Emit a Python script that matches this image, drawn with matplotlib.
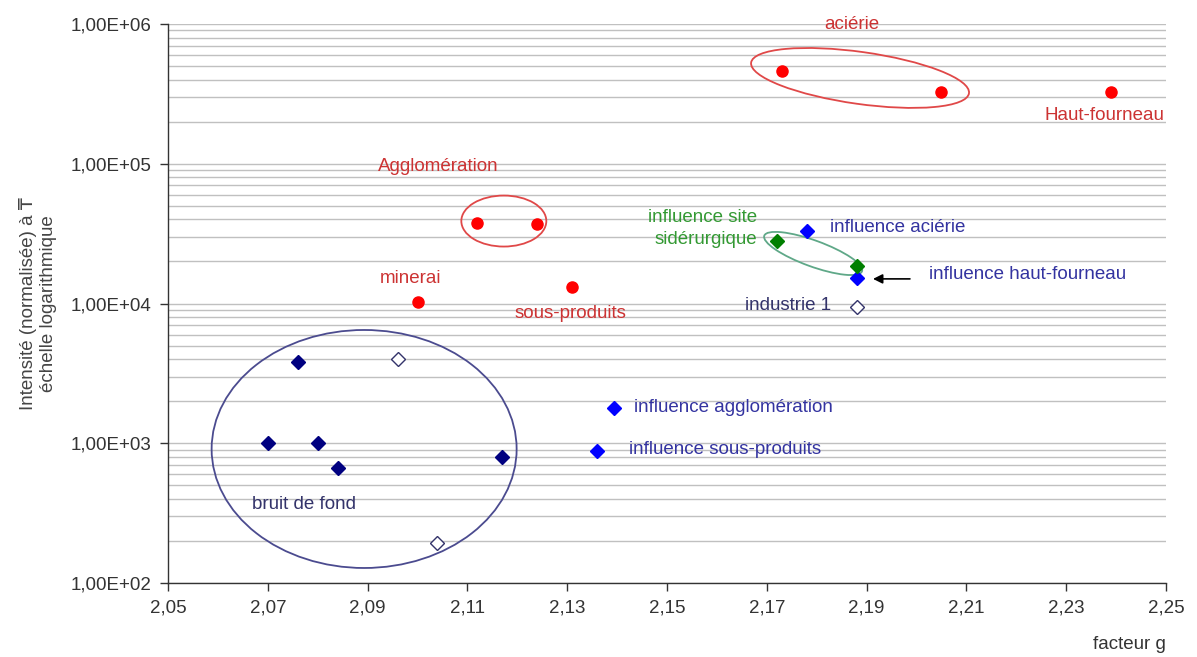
import matplotlib
matplotlib.use("Agg")
import matplotlib.pyplot as plt
import matplotlib.transforms as mtransforms
from matplotlib.patches import Ellipse
from matplotlib.ticker import FixedLocator, LogLocator, FuncFormatter, NullFormatter

plt.rcParams['font.family'] = ['Liberation Sans', 'DejaVu Sans']

# sources (red circles)
source_g = [2.173, 2.205, 2.239, 2.112, 2.124, 2.100, 2.131]
source_i = [4.6e5, 3.26e5, 3.26e5, 3.77e4, 3.7e4, 1.03e4, 1.31e4]

# influences (blue diamonds)
infl_g = [2.178, 2.188, 2.1394, 2.136]
infl_i = [3.3e4, 1.52e4, 1.79e3, 880]

# site siderurgique (green diamonds)
site_g = [2.172, 2.188]
site_i = [2.8e4, 1.85e4]

# bruit de fond (navy diamonds)
bruit_g = [2.076, 2.070, 2.080, 2.084, 2.117]
bruit_i = [3.83e3, 1000, 1000, 668, 794]

# hollow diamonds
open_g = [2.096, 2.104, 2.188]
open_i = [3.99e3, 194, 9.5e3]

xticks = [2.05, 2.07, 2.09, 2.11, 2.13, 2.15, 2.17, 2.19, 2.21, 2.23, 2.25]

RED_TXT = '#cc3333'
BLUE_TXT = '#3333a0'
GREEN_TXT = '#339933'
NAVY_TXT = '#33336a'
FS = 13.5

fig = plt.figure(figsize=(11.97, 6.57), dpi=100)
ax = fig.add_axes([0.1404, 0.1126, 0.8336, 0.8509])

ax.set_yscale('log')
ax.set_xlim(2.05, 2.25)
ax.set_ylim(1e2, 1e6)

ax.plot(source_g, source_i, 'o', color='#ff0000', markersize=8, zorder=4)
ax.plot(infl_g, infl_i, 'D', color='#0000ff', markersize=7.5, zorder=4)
ax.plot(site_g, site_i, 'D', color='#007f00', markersize=7.5, zorder=4)
ax.plot(bruit_g, bruit_i, 'D', color='#000080', markersize=7.5, zorder=4)
ax.plot(open_g, open_i, 'D', markerfacecolor='white', markeredgecolor='#33336a',
        markeredgewidth=1, markersize=7.5, zorder=4)

# ellipses: centre in data coords, size in inches
def add_ellipse(g, i, w, h, angle, color):
    tr = fig.dpi_scale_trans + mtransforms.ScaledTranslation(g, i, ax.transData)
    e = Ellipse((0, 0), w, h, angle=angle, transform=tr, fill=False,
                edgecolor=color, linewidth=1.3, zorder=3)
    ax.add_patch(e)

add_ellipse(2.1887, 4.11e5, 2.2, 0.52, -8, '#e04848')
add_ellipse(2.1173, 3.89e4, 0.85, 0.51, 0, '#e04848')
add_ellipse(2.1793, 2.28e4, 1.04, 0.26, -20, '#5fa888')
add_ellipse(2.0893, 910, 3.05, 2.38, 0, '#4b4b8f')

# labels
ax.text(2.1871, 9.84e5, 'aciérie', color=RED_TXT, fontsize=FS, ha='center', va='center')
ax.text(2.2376, 2.23e5, 'Haut-fourneau', color=RED_TXT, fontsize=FS, ha='center', va='center')
ax.text(2.1041, 9.48e4, 'Agglomération', color=RED_TXT, fontsize=FS, ha='center', va='center')
ax.text(2.0987, 1.52e4, 'minerai', color=RED_TXT, fontsize=FS, ha='center', va='center')
ax.text(2.1306, 8.55e3, 'sous-produits', color=RED_TXT, fontsize=FS, ha='center', va='center')
ax.text(2.168, 3.44e4, 'influence site\nsidérurgique', color=GREEN_TXT, fontsize=FS,
        ha='right', va='center', multialignment='right', linespacing=1.35)
ax.text(2.1827, 3.47e4, 'influence aciérie', color=BLUE_TXT, fontsize=FS, ha='left', va='center')
ax.text(2.2025, 1.62e4, 'influence haut-fourneau', color=BLUE_TXT, fontsize=FS, ha='left', va='center')
ax.text(2.1656, 9.6e3, 'industrie 1', color=NAVY_TXT, fontsize=FS, ha='left', va='center')
ax.text(2.1434, 1.79e3, 'influence agglomération', color=BLUE_TXT, fontsize=FS, ha='left', va='center')
ax.text(2.1424, 895, 'influence sous-produits', color=BLUE_TXT, fontsize=FS, ha='left', va='center')
ax.text(2.0668, 367, 'bruit de fond', color=NAVY_TXT, fontsize=FS, ha='left', va='center')

ax.annotate('', xy=(2.1913, 1.5e4), xytext=(2.1987, 1.5e4),
            arrowprops=dict(arrowstyle='-|>', color='black', lw=1.2, mutation_scale=14,
                            shrinkA=0, shrinkB=0))

# axes styling
ax.xaxis.set_major_locator(FixedLocator(xticks))
ax.xaxis.set_major_formatter(FuncFormatter(lambda v, p: f"{v:.2f}".replace('.', ',')))
ax.yaxis.set_major_locator(LogLocator(base=10, numticks=10))
ax.yaxis.set_minor_locator(LogLocator(base=10, subs=range(2, 10), numticks=20))
ax.yaxis.set_major_formatter(FuncFormatter(lambda v, p: f"{v:.2E}".replace('.', ',')))
ax.yaxis.set_minor_formatter(NullFormatter())

ax.grid(True, axis='y', which='both', color='#c0c0c0', linewidth=1)
ax.set_axisbelow(True)
ax.tick_params(axis='both', which='major', direction='out', length=6, width=1,
               color='#333333', labelcolor='#333333', labelsize=FS, pad=6)
ax.tick_params(axis='y', which='minor', length=0)

for s in ['top', 'right']:
    ax.spines[s].set_visible(False)
for s in ['left', 'bottom']:
    ax.spines[s].set_color('#333333')
    ax.spines[s].set_linewidth(1)

ax.set_xlabel('facteur g', fontsize=FS, color='#333333', loc='right', labelpad=14)
ax.set_ylabel('Intensité (normalisée) à ₸\néchelle logarithmique', fontsize=FS,
              color='#444444', labelpad=10)

fig.savefig('out.png', dpi=100)
